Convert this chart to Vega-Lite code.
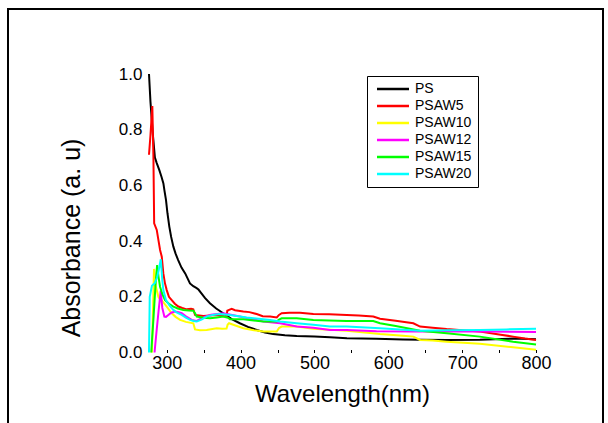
{
  "$schema": "https://vega.github.io/schema/vega-lite/v6.json",
  "width": 595,
  "height": 430,
  "autosize": {"type": "none"},
  "padding": {"left": 8, "top": 9, "right": 5, "bottom": 0},
  "background": "white",
  "config": {
    "view": {"stroke": "black", "strokeWidth": 2},
    "font": "Liberation Sans",
    "axis": {"labelColor": "black", "titleColor": "black", "tickColor": "black", "grid": false, "domain": false, "titleFontWeight": "normal"}
  },
  "datasets": {
    "spectra": [
      {"sample": "PS", "nm": 276, "abs": 1.0}, {"sample": "PS", "nm": 278, "abs": 0.9}, {"sample": "PS", "nm": 281, "abs": 0.79}, {"sample": "PS", "nm": 284, "abs": 0.70}, {"sample": "PS", "nm": 286.5, "abs": 0.68}, {"sample": "PS", "nm": 290, "abs": 0.655}, {"sample": "PS", "nm": 293, "abs": 0.63}, {"sample": "PS", "nm": 295.5, "abs": 0.607}, {"sample": "PS", "nm": 297, "abs": 0.58}, {"sample": "PS", "nm": 299, "abs": 0.548}, {"sample": "PS", "nm": 301, "abs": 0.5}, {"sample": "PS", "nm": 303.5, "abs": 0.452}, {"sample": "PS", "nm": 306, "abs": 0.415}, {"sample": "PS", "nm": 309, "abs": 0.38}, {"sample": "PS", "nm": 312, "abs": 0.355}, {"sample": "PS", "nm": 315.5, "abs": 0.332}, {"sample": "PS", "nm": 320, "abs": 0.305}, {"sample": "PS", "nm": 325, "abs": 0.284}, {"sample": "PS", "nm": 331.5, "abs": 0.248}, {"sample": "PS", "nm": 336, "abs": 0.238}, {"sample": "PS", "nm": 340, "abs": 0.232}, {"sample": "PS", "nm": 343, "abs": 0.226}, {"sample": "PS", "nm": 347, "abs": 0.212}, {"sample": "PS", "nm": 352, "abs": 0.195}, {"sample": "PS", "nm": 358.5, "abs": 0.177}, {"sample": "PS", "nm": 367, "abs": 0.158}, {"sample": "PS", "nm": 376.5, "abs": 0.141}, {"sample": "PS", "nm": 388, "abs": 0.12}, {"sample": "PS", "nm": 399, "abs": 0.105}, {"sample": "PS", "nm": 410, "abs": 0.092}, {"sample": "PS", "nm": 422, "abs": 0.081}, {"sample": "PS", "nm": 433, "abs": 0.072}, {"sample": "PS", "nm": 444, "abs": 0.066}, {"sample": "PS", "nm": 460, "abs": 0.062}, {"sample": "PS", "nm": 476, "abs": 0.059}, {"sample": "PS", "nm": 500, "abs": 0.057}, {"sample": "PS", "nm": 521, "abs": 0.055}, {"sample": "PS", "nm": 544, "abs": 0.051}, {"sample": "PS", "nm": 584, "abs": 0.049}, {"sample": "PS", "nm": 620, "abs": 0.047}, {"sample": "PS", "nm": 643, "abs": 0.046}, {"sample": "PS", "nm": 680, "abs": 0.045}, {"sample": "PS", "nm": 724, "abs": 0.046}, {"sample": "PS", "nm": 770, "abs": 0.05}, {"sample": "PS", "nm": 800, "abs": 0.048},

      {"sample": "PSAW5", "nm": 276, "abs": 0.71}, {"sample": "PSAW5", "nm": 278, "abs": 0.78}, {"sample": "PSAW5", "nm": 280.5, "abs": 0.885}, {"sample": "PSAW5", "nm": 282, "abs": 0.70}, {"sample": "PSAW5", "nm": 283, "abs": 0.464}, {"sample": "PSAW5", "nm": 286.5, "abs": 0.44}, {"sample": "PSAW5", "nm": 289, "abs": 0.40}, {"sample": "PSAW5", "nm": 291, "abs": 0.368}, {"sample": "PSAW5", "nm": 293.3, "abs": 0.344}, {"sample": "PSAW5", "nm": 295.4, "abs": 0.284}, {"sample": "PSAW5", "nm": 297.5, "abs": 0.25}, {"sample": "PSAW5", "nm": 300, "abs": 0.224}, {"sample": "PSAW5", "nm": 303, "abs": 0.2}, {"sample": "PSAW5", "nm": 306.8, "abs": 0.188}, {"sample": "PSAW5", "nm": 311, "abs": 0.175}, {"sample": "PSAW5", "nm": 315.7, "abs": 0.165}, {"sample": "PSAW5", "nm": 321, "abs": 0.16}, {"sample": "PSAW5", "nm": 327, "abs": 0.155}, {"sample": "PSAW5", "nm": 333, "abs": 0.157}, {"sample": "PSAW5", "nm": 336, "abs": 0.155}, {"sample": "PSAW5", "nm": 338.3, "abs": 0.135}, {"sample": "PSAW5", "nm": 349.6, "abs": 0.131}, {"sample": "PSAW5", "nm": 367.7, "abs": 0.135}, {"sample": "PSAW5", "nm": 381, "abs": 0.129}, {"sample": "PSAW5", "nm": 382, "abs": 0.15}, {"sample": "PSAW5", "nm": 384.4, "abs": 0.153}, {"sample": "PSAW5", "nm": 388, "abs": 0.157}, {"sample": "PSAW5", "nm": 392.5, "abs": 0.152}, {"sample": "PSAW5", "nm": 403.7, "abs": 0.147}, {"sample": "PSAW5", "nm": 412, "abs": 0.145}, {"sample": "PSAW5", "nm": 421.8, "abs": 0.138}, {"sample": "PSAW5", "nm": 430, "abs": 0.13}, {"sample": "PSAW5", "nm": 440, "abs": 0.129}, {"sample": "PSAW5", "nm": 449, "abs": 0.126}, {"sample": "PSAW5", "nm": 452, "abs": 0.135}, {"sample": "PSAW5", "nm": 455.7, "abs": 0.141}, {"sample": "PSAW5", "nm": 466, "abs": 0.143}, {"sample": "PSAW5", "nm": 480.5, "abs": 0.143}, {"sample": "PSAW5", "nm": 498.5, "abs": 0.138}, {"sample": "PSAW5", "nm": 520, "abs": 0.137}, {"sample": "PSAW5", "nm": 543.7, "abs": 0.135}, {"sample": "PSAW5", "nm": 560, "abs": 0.133}, {"sample": "PSAW5", "nm": 579.7, "abs": 0.129}, {"sample": "PSAW5", "nm": 588.8, "abs": 0.121}, {"sample": "PSAW5", "nm": 610, "abs": 0.114}, {"sample": "PSAW5", "nm": 633.9, "abs": 0.105}, {"sample": "PSAW5", "nm": 643, "abs": 0.093}, {"sample": "PSAW5", "nm": 660, "abs": 0.089}, {"sample": "PSAW5", "nm": 679, "abs": 0.084}, {"sample": "PSAW5", "nm": 700, "abs": 0.08}, {"sample": "PSAW5", "nm": 724, "abs": 0.075}, {"sample": "PSAW5", "nm": 750, "abs": 0.065}, {"sample": "PSAW5", "nm": 769, "abs": 0.057}, {"sample": "PSAW5", "nm": 785, "abs": 0.05}, {"sample": "PSAW5", "nm": 800, "abs": 0.045},

      {"sample": "PSAW10", "nm": 280, "abs": 0.0}, {"sample": "PSAW10", "nm": 282.8, "abs": 0.30}, {"sample": "PSAW10", "nm": 285, "abs": 0.24}, {"sample": "PSAW10", "nm": 288.7, "abs": 0.20}, {"sample": "PSAW10", "nm": 291, "abs": 0.19}, {"sample": "PSAW10", "nm": 294, "abs": 0.185}, {"sample": "PSAW10", "nm": 300, "abs": 0.165}, {"sample": "PSAW10", "nm": 306.8, "abs": 0.141}, {"sample": "PSAW10", "nm": 312, "abs": 0.128}, {"sample": "PSAW10", "nm": 318, "abs": 0.117}, {"sample": "PSAW10", "nm": 326, "abs": 0.11}, {"sample": "PSAW10", "nm": 336, "abs": 0.105}, {"sample": "PSAW10", "nm": 338.3, "abs": 0.083}, {"sample": "PSAW10", "nm": 345, "abs": 0.08}, {"sample": "PSAW10", "nm": 354, "abs": 0.081}, {"sample": "PSAW10", "nm": 367.7, "abs": 0.087}, {"sample": "PSAW10", "nm": 375, "abs": 0.085}, {"sample": "PSAW10", "nm": 381, "abs": 0.086}, {"sample": "PSAW10", "nm": 382.5, "abs": 0.1}, {"sample": "PSAW10", "nm": 384.4, "abs": 0.105}, {"sample": "PSAW10", "nm": 392, "abs": 0.098}, {"sample": "PSAW10", "nm": 403.7, "abs": 0.087}, {"sample": "PSAW10", "nm": 418, "abs": 0.08}, {"sample": "PSAW10", "nm": 430.8, "abs": 0.075}, {"sample": "PSAW10", "nm": 449, "abs": 0.075}, {"sample": "PSAW10", "nm": 452, "abs": 0.088}, {"sample": "PSAW10", "nm": 455.7, "abs": 0.093}, {"sample": "PSAW10", "nm": 476, "abs": 0.093}, {"sample": "PSAW10", "nm": 498.5, "abs": 0.085}, {"sample": "PSAW10", "nm": 543.7, "abs": 0.078}, {"sample": "PSAW10", "nm": 588.8, "abs": 0.066}, {"sample": "PSAW10", "nm": 620, "abs": 0.06}, {"sample": "PSAW10", "nm": 633.9, "abs": 0.057}, {"sample": "PSAW10", "nm": 643, "abs": 0.045}, {"sample": "PSAW10", "nm": 660, "abs": 0.043}, {"sample": "PSAW10", "nm": 679, "abs": 0.039}, {"sample": "PSAW10", "nm": 724, "abs": 0.031}, {"sample": "PSAW10", "nm": 769, "abs": 0.019}, {"sample": "PSAW10", "nm": 800, "abs": 0.01},

      {"sample": "PSAW12", "nm": 283.5, "abs": 0.0}, {"sample": "PSAW12", "nm": 286, "abs": 0.07}, {"sample": "PSAW12", "nm": 289, "abs": 0.15}, {"sample": "PSAW12", "nm": 291.9, "abs": 0.222}, {"sample": "PSAW12", "nm": 294, "abs": 0.16}, {"sample": "PSAW12", "nm": 296.8, "abs": 0.129}, {"sample": "PSAW12", "nm": 299, "abs": 0.128}, {"sample": "PSAW12", "nm": 302.2, "abs": 0.135}, {"sample": "PSAW12", "nm": 306, "abs": 0.143}, {"sample": "PSAW12", "nm": 311.2, "abs": 0.147}, {"sample": "PSAW12", "nm": 316, "abs": 0.145}, {"sample": "PSAW12", "nm": 320.3, "abs": 0.141}, {"sample": "PSAW12", "nm": 326, "abs": 0.13}, {"sample": "PSAW12", "nm": 333.8, "abs": 0.117}, {"sample": "PSAW12", "nm": 340, "abs": 0.113}, {"sample": "PSAW12", "nm": 350, "abs": 0.127}, {"sample": "PSAW12", "nm": 360, "abs": 0.136}, {"sample": "PSAW12", "nm": 376.6, "abs": 0.141}, {"sample": "PSAW12", "nm": 399, "abs": 0.129}, {"sample": "PSAW12", "nm": 430.8, "abs": 0.111}, {"sample": "PSAW12", "nm": 453.5, "abs": 0.105}, {"sample": "PSAW12", "nm": 476, "abs": 0.093}, {"sample": "PSAW12", "nm": 498.5, "abs": 0.089}, {"sample": "PSAW12", "nm": 521, "abs": 0.081}, {"sample": "PSAW12", "nm": 543.7, "abs": 0.081}, {"sample": "PSAW12", "nm": 584, "abs": 0.076}, {"sample": "PSAW12", "nm": 633.9, "abs": 0.075}, {"sample": "PSAW12", "nm": 724, "abs": 0.075}, {"sample": "PSAW12", "nm": 800, "abs": 0.074},

      {"sample": "PSAW15", "nm": 279, "abs": 0.0}, {"sample": "PSAW15", "nm": 282, "abs": 0.12}, {"sample": "PSAW15", "nm": 285, "abs": 0.25}, {"sample": "PSAW15", "nm": 287, "abs": 0.314}, {"sample": "PSAW15", "nm": 289, "abs": 0.27}, {"sample": "PSAW15", "nm": 291, "abs": 0.236}, {"sample": "PSAW15", "nm": 294, "abs": 0.21}, {"sample": "PSAW15", "nm": 297.7, "abs": 0.188}, {"sample": "PSAW15", "nm": 303, "abs": 0.175}, {"sample": "PSAW15", "nm": 309, "abs": 0.165}, {"sample": "PSAW15", "nm": 315, "abs": 0.158}, {"sample": "PSAW15", "nm": 322.5, "abs": 0.153}, {"sample": "PSAW15", "nm": 330, "abs": 0.151}, {"sample": "PSAW15", "nm": 336, "abs": 0.15}, {"sample": "PSAW15", "nm": 338.5, "abs": 0.14}, {"sample": "PSAW15", "nm": 340.6, "abs": 0.129}, {"sample": "PSAW15", "nm": 350, "abs": 0.125}, {"sample": "PSAW15", "nm": 358.6, "abs": 0.123}, {"sample": "PSAW15", "nm": 368, "abs": 0.126}, {"sample": "PSAW15", "nm": 376.6, "abs": 0.129}, {"sample": "PSAW15", "nm": 383, "abs": 0.125}, {"sample": "PSAW15", "nm": 385.7, "abs": 0.119}, {"sample": "PSAW15", "nm": 403.7, "abs": 0.119}, {"sample": "PSAW15", "nm": 418, "abs": 0.115}, {"sample": "PSAW15", "nm": 430.8, "abs": 0.111}, {"sample": "PSAW15", "nm": 449, "abs": 0.111}, {"sample": "PSAW15", "nm": 452, "abs": 0.118}, {"sample": "PSAW15", "nm": 455.7, "abs": 0.123}, {"sample": "PSAW15", "nm": 476, "abs": 0.123}, {"sample": "PSAW15", "nm": 498.5, "abs": 0.117}, {"sample": "PSAW15", "nm": 520, "abs": 0.115}, {"sample": "PSAW15", "nm": 543.7, "abs": 0.113}, {"sample": "PSAW15", "nm": 579.7, "abs": 0.113}, {"sample": "PSAW15", "nm": 588.8, "abs": 0.105}, {"sample": "PSAW15", "nm": 610, "abs": 0.095}, {"sample": "PSAW15", "nm": 643, "abs": 0.078}, {"sample": "PSAW15", "nm": 679, "abs": 0.069}, {"sample": "PSAW15", "nm": 724, "abs": 0.057}, {"sample": "PSAW15", "nm": 769, "abs": 0.039}, {"sample": "PSAW15", "nm": 800, "abs": 0.029},

      {"sample": "PSAW20", "nm": 276, "abs": 0.0}, {"sample": "PSAW20", "nm": 277, "abs": 0.2}, {"sample": "PSAW20", "nm": 280, "abs": 0.24}, {"sample": "PSAW20", "nm": 284, "abs": 0.25}, {"sample": "PSAW20", "nm": 287, "abs": 0.27}, {"sample": "PSAW20", "nm": 289.5, "abs": 0.30}, {"sample": "PSAW20", "nm": 292, "abs": 0.335}, {"sample": "PSAW20", "nm": 294, "abs": 0.26}, {"sample": "PSAW20", "nm": 295.4, "abs": 0.224}, {"sample": "PSAW20", "nm": 299, "abs": 0.188}, {"sample": "PSAW20", "nm": 304, "abs": 0.168}, {"sample": "PSAW20", "nm": 309, "abs": 0.153}, {"sample": "PSAW20", "nm": 314, "abs": 0.143}, {"sample": "PSAW20", "nm": 320.3, "abs": 0.135}, {"sample": "PSAW20", "nm": 326, "abs": 0.125}, {"sample": "PSAW20", "nm": 331.6, "abs": 0.117}, {"sample": "PSAW20", "nm": 336, "abs": 0.113}, {"sample": "PSAW20", "nm": 340.6, "abs": 0.111}, {"sample": "PSAW20", "nm": 347, "abs": 0.118}, {"sample": "PSAW20", "nm": 354, "abs": 0.129}, {"sample": "PSAW20", "nm": 362, "abs": 0.135}, {"sample": "PSAW20", "nm": 372, "abs": 0.138}, {"sample": "PSAW20", "nm": 385.7, "abs": 0.135}, {"sample": "PSAW20", "nm": 408.3, "abs": 0.126}, {"sample": "PSAW20", "nm": 440, "abs": 0.117}, {"sample": "PSAW20", "nm": 453.5, "abs": 0.111}, {"sample": "PSAW20", "nm": 476, "abs": 0.105}, {"sample": "PSAW20", "nm": 498.5, "abs": 0.1}, {"sample": "PSAW20", "nm": 521, "abs": 0.093}, {"sample": "PSAW20", "nm": 543.7, "abs": 0.093}, {"sample": "PSAW20", "nm": 588.8, "abs": 0.087}, {"sample": "PSAW20", "nm": 643, "abs": 0.078}, {"sample": "PSAW20", "nm": 680, "abs": 0.08}, {"sample": "PSAW20", "nm": 724, "abs": 0.081}, {"sample": "PSAW20", "nm": 760, "abs": 0.083}, {"sample": "PSAW20", "nm": 800, "abs": 0.085}
    ]
  },
  "layer": [
    {
      "mark": {"type": "rule", "color": "black", "strokeWidth": 1.5},
      "encoding": {"x": {"datum": 276}, "x2": {"datum": 800}, "y": {"datum": 0}}
    },
    {
      "mark": {"type": "rule", "color": "black", "strokeWidth": 1.5},
      "encoding": {"x": {"datum": 276}, "y": {"datum": 0}, "y2": {"datum": 1}}
    },
    {
      "data": {"name": "spectra"},
      "mark": {"type": "line", "strokeWidth": 2},
      "encoding": {
        "x": {
          "field": "nm", "type": "quantitative",
          "scale": {"domain": [85.1, 890.7], "nice": false, "zero": false},
          "axis": {
            "title": "Wavelength(nm)", "titleFontSize": 24, "titleX": 334, "titlePadding": 10,
            "values": [300, 350, 400, 450, 500, 550, 600, 650, 700, 750, 800],
            "labelExpr": "datum.value % 100 == 0 ? datum.label : ''",
            "labelFontSize": 18, "labelDx": 5, "labelPadding": 5,
            "tickSize": -3, "offset": -86.5
          }
        },
        "y": {
          "field": "abs", "type": "quantitative",
          "scale": {"domain": [-0.3106, 1.2334], "nice": false, "zero": false},
          "axis": {
            "title": "Absorbance (a. u)", "titleFontSize": 25, "titleY": 228.5, "titlePadding": 34,
            "values": [0, 0.2, 0.4, 0.6, 0.8, 1.0], "format": ".1f",
            "labelFontSize": 17, "labelPadding": 7, "ticks": false, "offset": -141
          }
        },
        "color": {
          "field": "sample", "type": "nominal",
          "scale": {"domain": ["PS", "PSAW5", "PSAW10", "PSAW12", "PSAW15", "PSAW20"], "range": ["#000000", "#ff0000", "#ffff00", "#ff00ff", "#00ff00", "#00ffff"]},
          "legend": {
            "title": null, "orient": "none", "legendX": 359, "legendY": 67,
            "strokeColor": "black", "fillColor": "white", "padding": 6,
            "symbolType": "M-3.2,0H3.2", "symbolSize": 100, "symbolStrokeWidth": 2.5, "symbolOffset": 13,
            "labelFontSize": 14, "labelOffset": 15, "labelColor": "black", "rowPadding": 3
          }
        }
      }
    }
  ]
}
